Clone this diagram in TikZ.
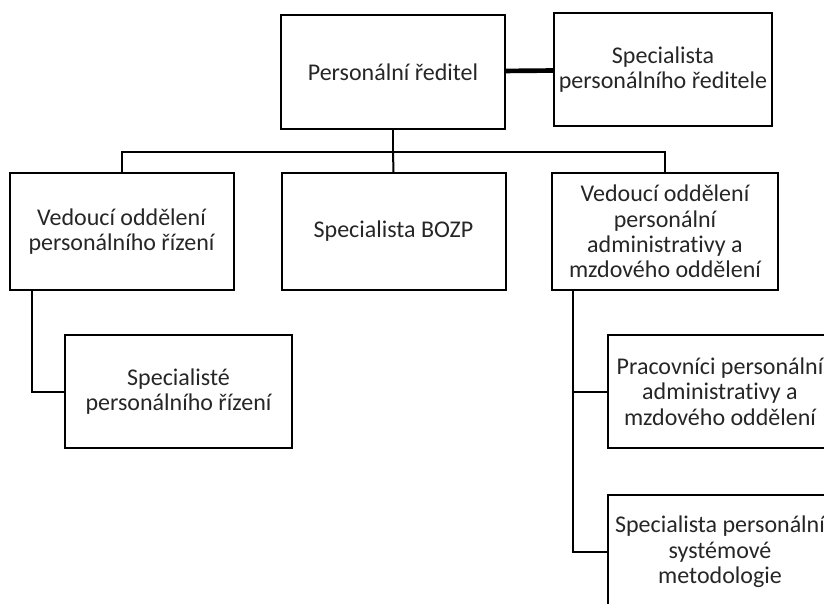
\documentclass[tikz,border=0pt]{standalone}
\usepackage{fontspec}
\setmainfont{Carlito}[Ligatures=NoCommon]
\usepackage{tikz}
\usetikzlibrary {positioning}
\tikzset{
         box/.style={draw, line width=1.5pt, align=center, inner xsep=0.5pt, inner ysep=2pt,
                     font=\fontsize{18}{19}\selectfont, text=black!85},
         wide/.style={minimum width=168pt, minimum height=85pt},
         conn/.style={line width=1.5pt},
         thickconn/.style={line width=3.5pt},
}

\begin{document}
\begin{tikzpicture}[x=0.75pt, y=-0.75pt]
    \clip (0,0) rectangle (824,603);
    % vedeni
    \node[box, wide] (red) at (393,72) {Personální ředitel};
    \node[box, wide, minimum width=163.5pt] (spec) at (663,69.5) {Specialista\\personálního ředitele};

    % oddeleni
    \node[box, wide, minimum height=87.75pt] (vedpr) at (121.5,231.5) {Vedoucí oddělení\\personálního řízení};
    \node[box, wide, minimum height=87.75pt] (bozp) at (393.5,231.5) {Specialista BOZP};
    \node[box, wide, minimum width=169.5pt, minimum height=87.75pt] (vedpa) at (665,231.5) {Vedoucí oddělení\\personální\\administrativy a\\mzdového oddělení};

    % podrizeni
    \node[box, wide, minimum width=170.25pt] (specpr) at (178.5,391.5) {Specialisté\\personálního řízení};
    \node[box, wide] (prac) at (720,391.5) {Pracovníci personální\\administrativy a\\mzdového oddělení};
    \node[box, wide] (metod) at (720,552) {Specialista personální\\systémové\\metodologie};

    \coordinate (bus) at (393,152);
    \draw[thickconn] (red) -- (spec);
    \draw[conn] (red.south) -- (bus);
    \draw[conn] (vedpr.north) |- (bus) -| (vedpa.north);
    \draw[conn] (bus) -- (bozp.north);
    \draw[conn] ([xshift=17.25pt]vedpr.south west) |- (specpr.west);
    \draw[conn] ([xshift=16.5pt]vedpa.south west) |- (metod.west);
    \draw[conn] ([xshift=16.5pt]vedpa.south west) |- (prac.west);
\end{tikzpicture}
\end{document}
